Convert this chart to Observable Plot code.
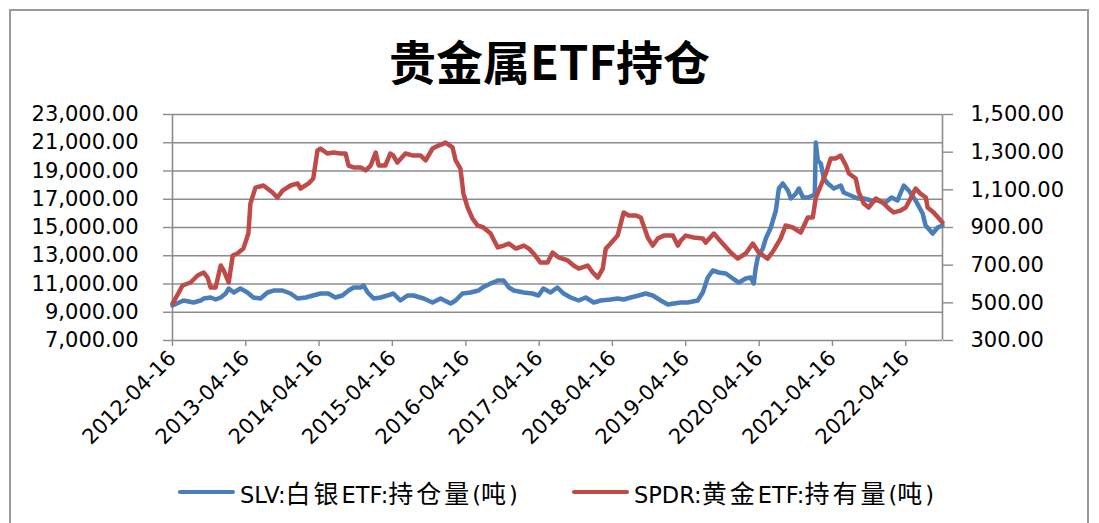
<!DOCTYPE html>
<html><head><meta charset="utf-8">
<script src="https://cdn.jsdelivr.net/npm/d3@7"></script>
<script src="https://cdn.jsdelivr.net/npm/@observablehq/plot@0.6"></script>
<style>
body{margin:0;background:#fff;}
#wrap{position:relative;width:1099px;height:523px;overflow:hidden;background:#fff;font-family:"DejaVu Sans","Noto Sans CJK SC",sans-serif;color:#000;}
#frame{position:absolute;left:9px;top:9px;width:1080px;height:600px;border:2px solid #9a9a9a;box-sizing:border-box;}
#title{position:absolute;left:0;width:1099px;top:36px;line-height:47px;text-align:center;font-family:"Noto Sans CJK SC";font-weight:700;font-size:47px;}
#chart{position:absolute;left:0;top:0;}
.leg{position:absolute;top:476px;height:32px;display:flex;align-items:center;font-size:22.5px;white-space:nowrap;}
.sw{display:inline-block;width:57px;height:4px;border-radius:2px;margin-right:5px;}
.cjk{font-family:"Noto Sans CJK SC";font-size:25px;letter-spacing:3px;}
</style></head>
<body>
<div id="wrap">
  <div id="frame"></div>
  <div id="chart"></div>
  <div id="title">贵金属ETF持仓</div>
  <div class="leg" style="left:178px"><span class="sw" style="background:#4a7ebb"></span><span>SLV:<span class="cjk">白银</span>ETF:<span class="cjk">持仓量</span>(<span class="cjk">吨</span>)</span></div>
  <div class="leg" style="left:572px"><span class="sw" style="background:#be4b48"></span><span>SPDR:<span class="cjk">黄金</span>ETF:<span class="cjk">持有量</span>(<span class="cjk">吨</span>)</span></div>
</div>
<script>
// ---- data ----
const seriesNames = ["SLV:白银ETF:持仓量(吨)", "SPDR:黄金ETF:持有量(吨)"];
const slvDates = ["2012-04-16","2012-06-10","2012-07-30","2012-09-03","2012-09-18","2012-10-23","2012-11-17","2012-12-12","2013-01-06","2013-01-21","2013-02-15","2013-03-20","2013-04-24","2013-05-24","2013-06-28","2013-08-02","2013-09-01","2013-10-16","2013-11-25","2013-12-30","2014-02-08","2014-03-18","2014-04-23","2014-06-01","2014-07-06","2014-08-10","2014-09-10","2014-10-05","2014-11-09","2014-11-24","2014-12-14","2015-01-13","2015-02-17","2015-03-22","2015-04-21","2015-05-26","2015-06-30","2015-07-30","2015-09-19","2015-11-02","2015-12-12","2016-01-31","2016-02-25","2016-03-30","2016-05-09","2016-06-18","2016-07-08","2016-08-17","2016-09-22","2016-10-21","2016-11-16","2016-12-11","2017-01-30","2017-03-14","2017-04-13","2017-05-07","2017-06-12","2017-07-16","2017-08-16","2017-09-20","2017-10-30","2017-12-04","2018-01-13","2018-02-17","2018-04-07","2018-05-12","2018-06-11","2018-07-16","2018-08-25","2018-09-29","2018-11-03","2018-12-13","2019-01-17","2019-02-16","2019-03-23","2019-04-26","2019-06-15","2019-07-10","2019-08-04","2019-08-29","2019-09-28","2019-11-02","2019-12-07","2020-01-06","2020-02-09","2020-03-05","2020-03-20","2020-03-30","2020-04-09","2020-05-04","2020-05-19","2020-06-13","2020-07-08","2020-07-23","2020-08-12","2020-09-06","2020-09-21","2020-10-16","2020-10-31","2020-11-20","2020-12-14","2021-01-08","2021-01-18","2021-01-23","2021-02-02","2021-02-17","2021-03-04","2021-03-24","2021-04-23","2021-05-27","2021-06-11","2021-07-16","2021-08-20","2021-09-19","2021-10-26","2021-11-30","2021-12-30","2022-02-04","2022-03-06","2022-04-06","2022-05-01","2022-06-04","2022-07-09","2022-07-24","2022-08-28","2022-09-22","2022-10-16"];
const slvValues = [9477,9831,9690,9831,9973,10044,9902,10044,10327,10681,10398,10681,10398,10044,9973,10398,10539,10539,10327,9973,10044,10185,10327,10327,10044,10185,10539,10752,10752,10894,10398,9973,10044,10185,10327,9831,10185,10185,9973,9690,9973,9619,9831,10327,10398,10539,10752,11035,11248,11248,10752,10539,10398,10327,10185,10681,10398,10752,10327,10044,9831,10044,9690,9831,9902,9973,9902,10044,10185,10327,10185,9831,9548,9619,9690,9690,9831,10398,11460,11955,11814,11743,11389,11106,11389,11460,11035,12168,12876,13513,14221,15000,16203,17761,18115,17619,17053,17407,17761,17124,17124,17265,17407,21018,19743,19531,18469,18115,17761,17973,17478,17265,17053,17053,16911,16911,16699,17124,16911,17973,17619,16911,15991,15141,14575,15000,15141];
const spdrDates = ["2012-04-16","2012-05-15","2012-06-05","2012-07-15","2012-08-19","2012-09-18","2012-10-08","2012-10-23","2012-11-17","2012-12-12","2012-12-27","2013-01-21","2013-02-10","2013-03-05","2013-04-04","2013-04-29","2013-05-09","2013-06-03","2013-07-13","2013-08-27","2013-09-21","2013-10-16","2013-11-25","2013-12-30","2014-01-14","2014-02-23","2014-03-18","2014-04-08","2014-04-23","2014-05-27","2014-06-27","2014-08-01","2014-08-26","2014-09-10","2014-10-05","2014-11-09","2014-12-04","2014-12-29","2015-01-23","2015-02-07","2015-03-12","2015-04-06","2015-04-21","2015-05-11","2015-06-20","2015-07-30","2015-09-04","2015-09-29","2015-11-02","2015-12-02","2016-01-06","2016-02-10","2016-02-25","2016-03-20","2016-04-04","2016-04-25","2016-05-19","2016-06-13","2016-07-13","2016-08-17","2016-09-22","2016-10-21","2016-11-16","2016-12-21","2017-01-30","2017-02-24","2017-03-19","2017-04-23","2017-05-28","2017-06-22","2017-07-22","2017-09-05","2017-10-05","2017-10-30","2017-12-14","2018-01-08","2018-02-02","2018-02-27","2018-03-14","2018-04-07","2018-05-12","2018-06-11","2018-07-06","2018-08-10","2018-09-04","2018-10-09","2018-11-03","2018-11-28","2018-12-28","2019-02-11","2019-03-08","2019-03-23","2019-04-16","2019-05-26","2019-07-10","2019-07-25","2019-09-03","2019-10-17","2019-11-26","2019-12-31","2020-02-09","2020-03-15","2020-04-14","2020-05-28","2020-06-27","2020-08-01","2020-08-26","2020-09-30","2020-11-09","2020-12-14","2021-01-08","2021-01-23","2021-02-17","2021-03-14","2021-04-07","2021-05-01","2021-05-27","2021-06-22","2021-07-07","2021-08-10","2021-08-25","2021-09-19","2021-10-13","2021-11-18","2021-12-22","2022-01-21","2022-02-15","2022-03-21","2022-04-16","2022-05-10","2022-06-04","2022-06-28","2022-07-25","2022-08-03","2022-09-02","2022-10-16"];
const spdrValues = [496,550,592,608,645,661,634,581,581,698,672,608,751,762,788,868,1027,1112,1123,1086,1059,1096,1123,1134,1107,1134,1160,1309,1319,1293,1298,1293,1293,1229,1219,1219,1203,1229,1298,1229,1229,1293,1282,1245,1293,1282,1282,1256,1319,1335,1351,1325,1256,1213,1080,1006,948,911,900,868,794,804,815,788,804,788,762,714,714,767,741,725,698,682,698,661,634,682,788,815,857,980,964,964,953,847,804,842,857,857,804,831,857,847,842,820,868,815,767,735,762,815,767,735,778,842,911,900,873,953,953,1059,1123,1187,1266,1266,1282,1229,1187,1160,1086,1027,1006,1054,1033,1001,980,990,1006,1054,1107,1080,1059,1006,980,927];
const leftTicks = [7000,9000,11000,13000,15000,17000,19000,21000,23000];
const rightTicks = [300,500,700,900,1100,1300,1500];
const xTickYears = [2012,2013,2014,2015,2016,2017,2018,2019,2020,2021,2022];
const xStart = "2012-04-16", xEnd = "2022-10-16";

// ---- build ----
const parse = d3.utcParse("%Y-%m-%d");
const slv = slvDates.map((d, i) => ({date: parse(d), v: slvValues[i]}));
const spdr = spdrDates.map((d, i) => ({date: parse(d), v: spdrValues[i]}));
const xTicks = xTickYears.map(y => new Date(Date.UTC(y, 3, 16)));
const toLeft = r => 7000 + (r - 300) * 16000 / 1200;
const toRight = v => 300 + (v - 7000) * 1200 / 16000;
const fmt = d3.format(",.2f");
const axisGray = "#8c8c8c";

const chart = Plot.plot({
  width: 1099, height: 523,
  marginLeft: 172, marginRight: 157, marginTop: 114, marginBottom: 183,
  style: {fontFamily: "DejaVu Sans", fontSize: "21px", color: "#000", background: "transparent", overflow: "visible"},
  x: {type: "utc", domain: [parse(xStart), parse(xEnd)]},
  y: {domain: [7000, 23000]},
  marks: [
    Plot.ruleY(leftTicks, {stroke: axisGray, strokeWidth: 1.4}),
    Plot.ruleX([parse(xStart), parse(xEnd)], {y1: 7000, y2: 23000, stroke: axisGray, strokeWidth: 1.6}),
    Plot.axisY(leftTicks, {anchor: "left", tickFormat: fmt, tickSize: 9, tickPadding: 25, stroke: axisGray, fill: "#000", strokeWidth: 1.4, fontSize: 21, label: null}),
    Plot.axisY(rightTicks.map(toLeft), {anchor: "right", tickFormat: d => fmt(Math.round(toRight(d))), tickSize: 10, tickPadding: 18, stroke: axisGray, fill: "#000", strokeWidth: 1.4, fontSize: 21, label: null}),
    Plot.axisX(xTicks, {anchor: "bottom", tickFormat: d3.utcFormat("%Y-%m-%d"), tickRotate: -45, tickSize: 6, tickPadding: 8, stroke: axisGray, fill: "#000", strokeWidth: 1.4, fontSize: 21, label: null}),
    Plot.line(slv, {x: "date", y: "v", stroke: "#4a7ebb", strokeWidth: 4.5, strokeLinejoin: "round", strokeLinecap: "round"}),
    Plot.line(spdr, {x: "date", y: d => toLeft(d.v), stroke: "#be4b48", strokeWidth: 4.5, strokeLinejoin: "round", strokeLinecap: "round"})
  ]
});
document.getElementById("chart").appendChild(chart);
</script>
</body></html>
